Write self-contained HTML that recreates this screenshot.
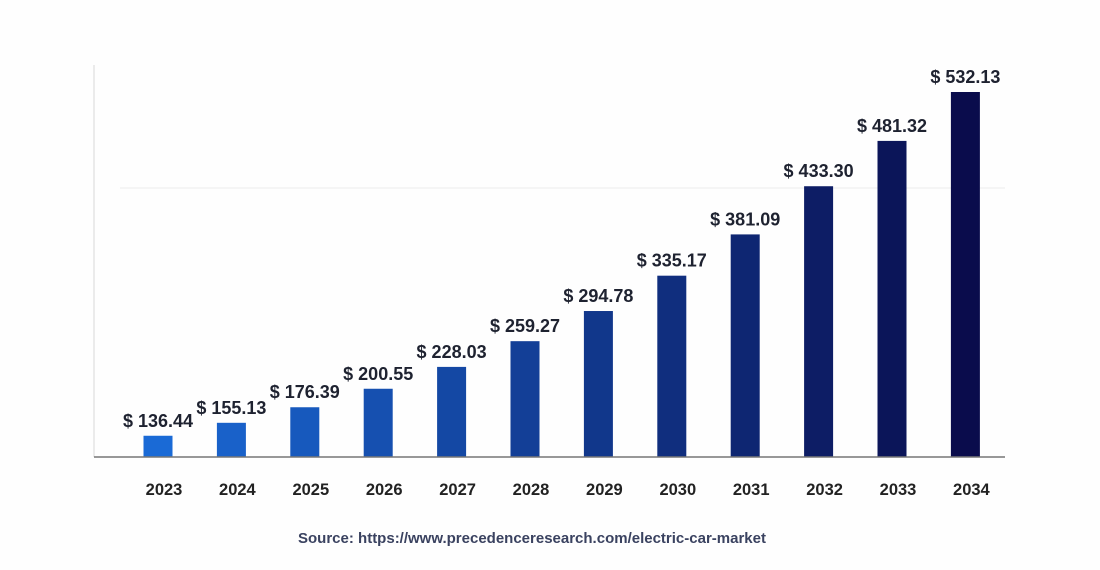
<!DOCTYPE html>
<html><head><meta charset="utf-8">
<style>
html,body{margin:0;padding:0;background:#fff;}
svg{display:block;font-family:"Liberation Sans",Arial,sans-serif;}
</style></head>
<body>
<svg id="chart" width="1100" height="570" viewBox="0 0 1100 570">
  <rect width="1100" height="570" fill="#fefefe"/>
  <line x1="120" y1="188" x2="1005" y2="188" stroke="#ececec" stroke-width="1"/>
  <line x1="94" y1="65" x2="94" y2="457" stroke="#d8d8d8" stroke-width="1"/>
  <g id="bars"></g>
  <line x1="94" y1="457" x2="1005" y2="457" stroke="#777" stroke-width="1.5"/>
  <text x="532" y="543" text-anchor="middle" font-size="15" font-weight="bold" fill="#3a4260">Source: https://www.precedenceresearch.com/electric-car-market</text>
</svg>
<script>
const categories = ["2023","2024","2025","2026","2027","2028","2029","2030","2031","2032","2033","2034"];
const values = [136.44,155.13,176.39,200.55,228.03,259.27,294.78,335.17,381.09,433.30,481.32,532.13];
const valueLabels = ["$ 136.44","$ 155.13","$ 176.39","$ 200.55","$ 228.03","$ 259.27","$ 294.78","$ 335.17","$ 381.09","$ 433.30","$ 481.32","$ 532.13"];

const NS = "http://www.w3.org/2000/svg";
const baseY = 457, maxH = 365, vMin = 100, vMax = 532.13, expo = 1.15;
function yScale(v){ return baseY - maxH * Math.pow(Math.max(v - vMin, 0)/(vMax - vMin), expo); }
function xScale(i){ return 158 + i * 73.4; }
const c0=[26,106,214], c1=[10,12,76];
function colorAt(i){
  const t=i/(categories.length-1);
  const c=c0.map((a,k)=>Math.round(a+(c1[k]-a)*t));
  return `rgb(${c[0]},${c[1]},${c[2]})`;
}
const g = document.getElementById("bars");
categories.forEach((cat,i)=>{
  const cx = xScale(i), top = yScale(values[i]);
  const r = document.createElementNS(NS,"rect");
  r.setAttribute("x", cx-14.5); r.setAttribute("y", top);
  r.setAttribute("width", 29); r.setAttribute("height", baseY-top);
  r.setAttribute("fill", colorAt(i));
  
  
  g.appendChild(r);
  const t = document.createElementNS(NS,"text");
  t.setAttribute("x", cx); t.setAttribute("y", top-9);
  t.setAttribute("text-anchor","middle"); t.setAttribute("font-size","18");
  t.setAttribute("font-weight","bold"); t.setAttribute("fill","#1e2230");
  t.textContent = valueLabels[i];
  
  
  g.appendChild(t);
  const x = document.createElementNS(NS,"text");
  x.setAttribute("x", cx+6); x.setAttribute("y", 495);
  x.setAttribute("text-anchor","middle"); x.setAttribute("font-size","16.5");
  x.setAttribute("font-weight","bold"); x.setAttribute("fill","#222");
  x.textContent = cat;
  
  
  g.appendChild(x);
});
</script>
</body></html>
